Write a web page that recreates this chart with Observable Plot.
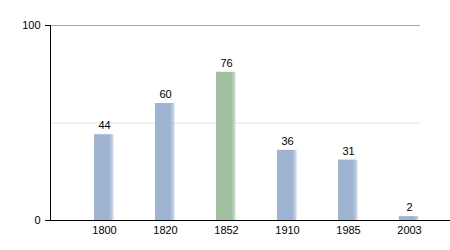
<!DOCTYPE html>
<html><head><meta charset="utf-8">
<script src="https://cdn.jsdelivr.net/npm/d3@7"></script>
<script src="https://cdn.jsdelivr.net/npm/@observablehq/plot@0.6"></script>
<style>body{margin:0;background:#fff}svg{display:block}</style>
</head><body><div id="chart"></div>
<script>
const years = ["1800", "1820", "1852", "1910", "1985", "2003"];
const values = [44, 60, 76, 36, 31, 2];
const highlight = ["1852"];
const yTicks = [0, 100];

const data = years.map((y, i) => ({year: y, value: values[i], hi: highlight.includes(y)}));

const chart = Plot.plot({
  width: 450, height: 250,
  marginLeft: 50, marginRight: 0, marginTop: 25, marginBottom: 30,
  style: {fontFamily: "Liberation Sans, Arial, sans-serif", fontSize: "11px", color: "#000", background: "#fff"},
  x: {domain: years, range: [71.75, 440.75], paddingInner: 0.67, paddingOuter: 0.335, label: null, tickSize: 0, tickPadding: 4},
  y: {domain: [0, 100], ticks: yTicks, label: null, tickSize: 5, tickPadding: 5},
  marks: [
    Plot.ruleY([50], {stroke: "#e4e4e4", insetRight: 30}),
    Plot.ruleY([100], {stroke: "#a8a8a8", insetRight: 30}),
    Plot.barY(data, {x: "year", y: "value", fill: d => d.hi ? "url(#gg)" : "url(#gb)"}),
    Plot.text(data, {x: "year", y: "value", text: d => String(d.value), dy: -9, fill: "#000", fontSize: 11}),
    Plot.frame({anchor: "left", stroke: "#000"}),
    Plot.ruleY([0], {stroke: "#000", insetLeft: -5}),
    Plot.axisX({tickSize: 0, tickPadding: 6}),
    Plot.axisY({ticks: yTicks, tickSize: 5, tickPadding: 5})
  ]
});

const ns = "http://www.w3.org/2000/svg";
const defs = document.createElementNS(ns, "defs");
function grad(id, color) {
  const g = document.createElementNS(ns, "linearGradient");
  g.setAttribute("id", id);
  g.setAttribute("x1", "0"); g.setAttribute("x2", "1"); g.setAttribute("y1", "0"); g.setAttribute("y2", "0");
  [[0, 1], [0.75, 1], [0.9, 0.7], [1, 0.15]].forEach(([o, a]) => {
    const s = document.createElementNS(ns, "stop");
    s.setAttribute("offset", o);
    s.setAttribute("stop-color", color);
    s.setAttribute("stop-opacity", a);
    g.appendChild(s);
  });
  defs.appendChild(g);
}
grad("gb", "#9fb4d3");
grad("gg", "#a0bf9f");
chart.insertBefore(defs, chart.firstChild);
document.getElementById("chart").appendChild(chart);
</script>
</body></html>
